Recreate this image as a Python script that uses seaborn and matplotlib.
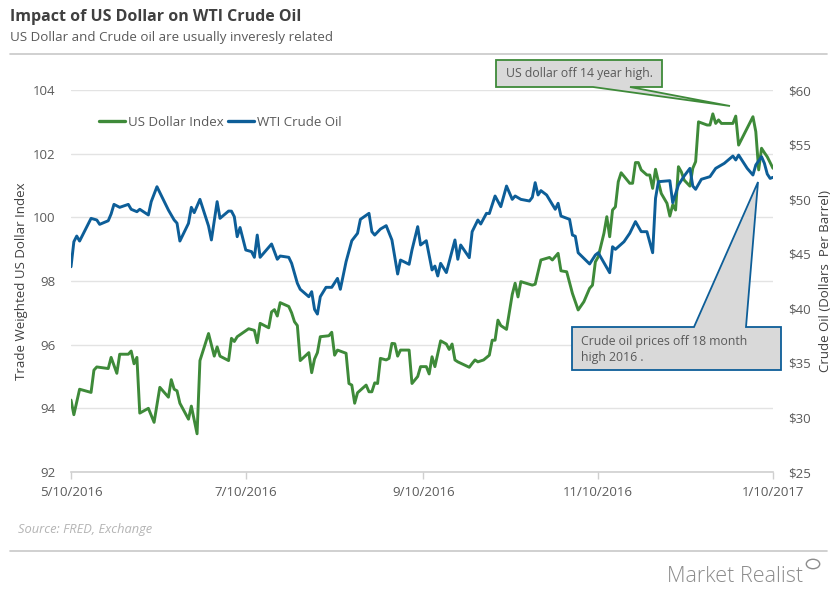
import matplotlib
matplotlib.use("Agg")
import matplotlib.pyplot as plt
from matplotlib.patches import Polygon
from matplotlib.lines import Line2D
import seaborn as sns
import pandas as pd

# ---------------- data ----------------
usd_dates = ["2016-05-10","2016-05-11","2016-05-13","2016-05-17","2016-05-18","2016-05-19","2016-05-23","2016-05-24",
 "2016-05-26","2016-05-27","2016-05-30","2016-05-31","2016-06-01","2016-06-02","2016-06-03","2016-06-06","2016-06-08",
 "2016-06-10","2016-06-13","2016-06-14","2016-06-15","2016-06-16","2016-06-17","2016-06-20","2016-06-21","2016-06-23",
 "2016-06-24","2016-06-27","2016-06-29","2016-06-30","2016-07-01","2016-07-04","2016-07-05","2016-07-06","2016-07-07",
 "2016-07-11","2016-07-13","2016-07-14","2016-07-15","2016-07-18","2016-07-19","2016-07-20","2016-07-21","2016-07-22",
 "2016-07-25","2016-07-26","2016-07-27","2016-07-28","2016-07-29","2016-08-01","2016-08-02","2016-08-03","2016-08-04",
 "2016-08-05","2016-08-08","2016-08-09","2016-08-10","2016-08-11","2016-08-14","2016-08-15","2016-08-16","2016-08-17",
 "2016-08-18","2016-08-21","2016-08-22","2016-08-23","2016-08-24","2016-08-25","2016-08-26","2016-08-28","2016-08-29",
 "2016-08-30","2016-08-31","2016-09-01","2016-09-02","2016-09-05","2016-09-06","2016-09-08","2016-09-09","2016-09-11",
 "2016-09-12","2016-09-13","2016-09-14","2016-09-16","2016-09-18","2016-09-19","2016-09-20","2016-09-21","2016-09-22",
 "2016-09-26","2016-09-27","2016-09-28","2016-09-29","2016-10-01","2016-10-03","2016-10-04","2016-10-05","2016-10-06",
 "2016-10-07","2016-10-09","2016-10-11","2016-10-12","2016-10-13","2016-10-14","2016-10-18","2016-10-19","2016-10-21",
 "2016-10-24","2016-10-25","2016-10-27","2016-10-28","2016-10-30","2016-11-01","2016-11-03","2016-11-05","2016-11-07",
 "2016-11-08","2016-11-09","2016-11-10","2016-11-12","2016-11-13","2016-11-14","2016-11-15","2016-11-16","2016-11-17",
 "2016-11-18","2016-11-21","2016-11-22","2016-11-23","2016-11-24","2016-11-25","2016-11-27","2016-11-28","2016-11-29",
 "2016-11-30","2016-12-01","2016-12-02","2016-12-04","2016-12-05","2016-12-06","2016-12-07","2016-12-08","2016-12-09",
 "2016-12-10","2016-12-12","2016-12-13","2016-12-14","2016-12-15","2016-12-18","2016-12-19","2016-12-20","2016-12-21",
 "2016-12-22","2016-12-23","2016-12-27","2016-12-28","2016-12-29","2017-01-03","2017-01-04","2017-01-05","2017-01-06",
 "2017-01-07","2017-01-08","2017-01-10"]
usd_values = [94.26,93.8,94.6,94.5,95.2,95.3,95.25,95.6,
 95.1,95.7,95.7,95.8,95.4,95.6,93.85,94.0,93.56,
 94.66,94.35,94.9,94.6,94.55,94.16,93.66,94.07,93.2,
 95.5,96.35,95.64,95.93,95.64,95.5,96.2,96.1,96.25,
 96.5,96.45,96.06,96.67,96.53,97.03,97.1,96.9,97.32,
 97.2,97.0,96.72,96.6,95.5,95.75,95.12,95.55,95.75,
 96.25,96.28,96.39,95.67,95.83,95.73,94.78,94.73,94.16,
 94.49,94.73,94.52,94.52,94.8,94.78,95.57,95.52,95.57,
 96.04,96.03,95.64,95.83,95.83,94.78,95.0,95.31,95.31,
 95.08,95.62,95.31,96.12,96.02,95.85,96.02,95.52,95.46,
 95.29,95.41,95.52,95.46,95.52,95.67,96.14,96.14,96.77,
 96.6,96.48,97.58,97.93,97.5,97.98,97.87,97.9,98.66,
 98.74,98.66,98.87,98.32,98.29,97.61,97.09,97.35,97.77,
 97.87,98.6,98.76,99.5,100.02,99.39,100.23,100.33,101.12,
 101.4,101.07,101.07,101.72,101.72,101.49,101.33,101.33,100.91,
 101.51,101.12,100.75,100.44,100.04,100.39,100.23,101.59,101.43,
 101.17,100.98,101.54,101.75,103.0,102.9,102.9,103.25,102.95,
 103.06,102.95,102.95,103.18,102.27,103.16,102.69,101.49,102.17,
 102.03,101.9,101.54]

oil_dates = ["2016-05-10","2016-05-11","2016-05-12","2016-05-13","2016-05-17","2016-05-19","2016-05-20","2016-05-23",
 "2016-05-24","2016-05-25","2016-05-27","2016-05-30","2016-05-31","2016-06-02","2016-06-03","2016-06-06","2016-06-07",
 "2016-06-09","2016-06-12","2016-06-13","2016-06-15","2016-06-16","2016-06-17","2016-06-20","2016-06-21","2016-06-22",
 "2016-06-24","2016-06-27","2016-06-28","2016-06-30","2016-07-01","2016-07-04","2016-07-05","2016-07-06","2016-07-07",
 "2016-07-08","2016-07-10","2016-07-12","2016-07-13","2016-07-14","2016-07-15","2016-07-19","2016-07-21","2016-07-22",
 "2016-07-25","2016-07-26","2016-07-28","2016-07-29","2016-08-01","2016-08-02","2016-08-03","2016-08-04","2016-08-05",
 "2016-08-07","2016-08-09","2016-08-11","2016-08-12","2016-08-14","2016-08-16","2016-08-18","2016-08-19","2016-08-22",
 "2016-08-23","2016-08-24","2016-08-26","2016-08-28","2016-08-30","2016-09-01","2016-09-02","2016-09-05","2016-09-06",
 "2016-09-08","2016-09-09","2016-09-11","2016-09-13","2016-09-14","2016-09-15","2016-09-16","2016-09-18","2016-09-21",
 "2016-09-22","2016-09-23","2016-09-26","2016-09-27","2016-09-29","2016-09-30","2016-10-02","2016-10-03","2016-10-05",
 "2016-10-07","2016-10-09","2016-10-11","2016-10-12","2016-10-14","2016-10-17","2016-10-18","2016-10-19","2016-10-20",
 "2016-10-21","2016-10-23","2016-10-26","2016-10-27","2016-10-28","2016-10-31","2016-11-01","2016-11-02","2016-11-03",
 "2016-11-05","2016-11-07","2016-11-09","2016-11-10","2016-11-14","2016-11-15","2016-11-16","2016-11-19","2016-11-21",
 "2016-11-23","2016-11-25","2016-11-27","2016-11-29","2016-11-30","2016-12-01","2016-12-05","2016-12-06","2016-12-08",
 "2016-12-10","2016-12-12","2016-12-13","2016-12-14","2016-12-16","2016-12-19","2016-12-21","2016-12-24","2016-12-27",
 "2016-12-28","2016-12-29","2017-01-01","2017-01-03","2017-01-04","2017-01-06","2017-01-07","2017-01-08","2017-01-09",
 "2017-01-10"]
oil_values = [43.8,46.1,46.62,46.16,48.24,48.09,47.69,48.02,
 48.64,49.52,49.25,49.52,49.07,48.85,49.07,48.55,49.77,
 51.14,49.52,49.0,48.09,47.8,46.16,47.78,49.25,48.76,
 49.98,47.54,46.26,49.77,48.24,48.91,48.9,48.39,46.56,
 47.4,45.34,45.19,44.67,46.71,44.67,45.89,44.49,44.79,
 44.67,44.12,42.29,41.74,41.06,41.52,39.9,39.47,41.06,
 41.92,41.92,42.74,41.74,44.27,46.19,46.87,48.15,48.7,
 47.02,46.71,47.26,47.57,46.26,43.14,44.42,44.03,45.34,
 47.48,45.8,46.19,43.51,43.87,42.96,44.12,43.27,46.26,
 44.49,45.8,44.64,47.02,48.09,47.72,48.7,48.68,50.29,
 49.31,51.2,49.98,50.29,49.98,49.83,50.17,51.51,50.38,
 50.78,50.38,49.07,49.62,48.45,48.15,46.71,46.6,45.09,
 44.58,44.06,44.88,45.09,43.26,45.64,45.4,46.1,46.87,
 47.94,47.02,47.02,45.09,50.08,51.6,51.69,49.67,51.3,
 52.12,52.82,51.2,50.9,51.82,52.06,52.82,53.28,53.95,
 53.59,54.04,52.82,52.21,53.13,53.89,53.28,52.3,51.9,
 52.0]

x_tick_dates = ["2016-05-10", "2016-07-10", "2016-09-10", "2016-11-10", "2017-01-10"]
x_tick_labels = ["5/10/2016", "7/10/2016", "9/10/2016", "11/10/2016", "1/10/2017"]
usd_ticks = [92, 94, 96, 98, 100, 102, 104]
oil_ticks = [25, 30, 35, 40, 45, 50, 55, 60]
oil_tick_labels = ["$25", "$30", "$35", "$40", "$45", "$50", "$55", "$60"]
series_names = ["US Dollar Index", "WTI Crude Oil"]

# ---------------- style ----------------
GREEN = "#3E8A39"
BLUE = "#0D5E98"
GRID = "#E3E3E3"
TXT = "#5A5A5A"
DARK = "#404040"

sns.set_theme(style="white")
plt.rcParams["font.family"] = ["Open Sans", "DejaVu Sans"]

W, H = 837, 590
fig = plt.figure(figsize=(W / 100, H / 100), dpi=100)

def fx(x):
    return x / W

def fy(y):
    return 1 - y / H

ax = fig.add_axes([fx(71), fy(472), fx(773) - fx(71), fy(90) - fy(472)])
ax2 = ax.twinx()

usd_df = pd.DataFrame({"date": pd.to_datetime(usd_dates), "value": usd_values})
oil_df = pd.DataFrame({"date": pd.to_datetime(oil_dates), "value": oil_values})

sns.lineplot(data=usd_df, x="date", y="value", ax=ax, color=GREEN, linewidth=2.1, legend=False)
sns.lineplot(data=oil_df, x="date", y="value", ax=ax2, color=BLUE, linewidth=2.1, legend=False)

xt = pd.to_datetime(x_tick_dates)
ax.set_xlim(xt[0], xt[-1])
ax.set_ylim(usd_ticks[0], usd_ticks[-1])
ax2.set_ylim(oil_ticks[0], oil_ticks[-1])

ax.set_xticks(xt)
ax.set_xticklabels(x_tick_labels)
ax.set_yticks(usd_ticks)
ax.set_yticklabels([str(t) for t in usd_ticks])
ax2.set_yticks(oil_ticks)
ax2.set_yticklabels(oil_tick_labels)

ax.grid(axis="y", color=GRID, linewidth=1.0)
ax.grid(axis="x", visible=False)
ax2.grid(False)

for a in (ax, ax2):
    for s in ("top", "left", "right", "bottom"):
        a.spines[s].set_visible(False)
ax.spines["bottom"].set_visible(True)
ax.spines["bottom"].set_color("#CFCFCF")
ax.spines["bottom"].set_linewidth(1.2)

ax.tick_params(axis="x", length=5, width=1, color="#CFCFCF", labelsize=9.5, labelcolor=TXT, pad=5,
               direction="out", bottom=True)
ax.tick_params(axis="y", length=0, labelsize=9.5, labelcolor=TXT, pad=11)
ax2.tick_params(axis="y", length=0, labelsize=9.5, labelcolor=TXT, pad=11)

ax.set_xlabel("")
ax.set_ylabel("Trade Weighted US Dollar Index", color=DARK, fontsize=9.5, labelpad=4)
ax2.set_ylabel("Crude Oil (Dollars  Per Barrel)", color=DARK, fontsize=9.5, labelpad=6)

# legend
handles = [Line2D([0], [0], color=GREEN, lw=2.4), Line2D([0], [0], color=BLUE, lw=2.4)]
leg = ax.legend(handles, series_names, loc="center left", bbox_to_anchor=(fx(99), fy(122)),
                bbox_transform=fig.transFigure, ncol=2, frameon=False, fontsize=9.5,
                handlelength=2.0, handletextpad=0.2, columnspacing=0.3, borderpad=0, borderaxespad=0)
for t in leg.get_texts():
    t.set_color(TXT)

# titles
fig.text(fx(10), fy(17), "Impact of US Dollar on WTI Crude Oil", fontsize=11.5, fontweight="bold",
         color=DARK, va="center", ha="left")
fig.text(fx(10), fy(38), "US Dollar and Crude oil are usually inveresly related", fontsize=9.6,
         color=TXT, va="center", ha="left")
fig.add_artist(Line2D([fx(10), fx(827)], [fy(54), fy(54)], color="#C8C8C8", lw=1.2, transform=fig.transFigure))
fig.add_artist(Line2D([fx(10), fx(827)], [fy(551), fy(551)], color="#C8C8C8", lw=1.2, transform=fig.transFigure))
fig.text(fx(18), fy(529), "Source: FRED, Exchange", fontsize=9.3, style="italic", color="#B4B4B4",
         va="center", ha="left")
fig.text(fx(803), fy(576), "Market Realist", fontsize=15.5, color="#8C8C8C", va="center", ha="right",
         fontweight="light")
fig.add_artist(plt.Circle((fx(813), fy(564)), 0.008, transform=fig.transFigure, fill=False,
                          edgecolor="#8C8C8C", lw=1.0))

# callouts
box1 = [(496, 60), (662, 60), (662, 87), (630, 87), (730, 106), (593, 87), (496, 87)]
fig.add_artist(Polygon([(fx(x), fy(y)) for x, y in box1], closed=True, transform=fig.transFigure,
                       facecolor="#D9D9D9", edgecolor=GREEN, lw=1.3, zorder=5))
fig.text(fx(506), fy(73), "US dollar off 14 year high.", fontsize=8.8, color=TXT, va="center",
         ha="left", zorder=6)

box2 = [(572, 327), (694, 327), (758, 182), (746, 327), (781, 327), (781, 370), (572, 370)]
fig.add_artist(Polygon([(fx(x), fy(y)) for x, y in box2], closed=True, transform=fig.transFigure,
                       facecolor="#D9D9D9", edgecolor=BLUE, lw=1.3, zorder=5))
fig.text(fx(581), fy(349), "Crude oil prices off 18 month\nhigh 2016 .", fontsize=8.8, color=TXT,
         va="center", ha="left", linespacing=1.3, zorder=6)

fig.savefig("out.png", dpi=100)
